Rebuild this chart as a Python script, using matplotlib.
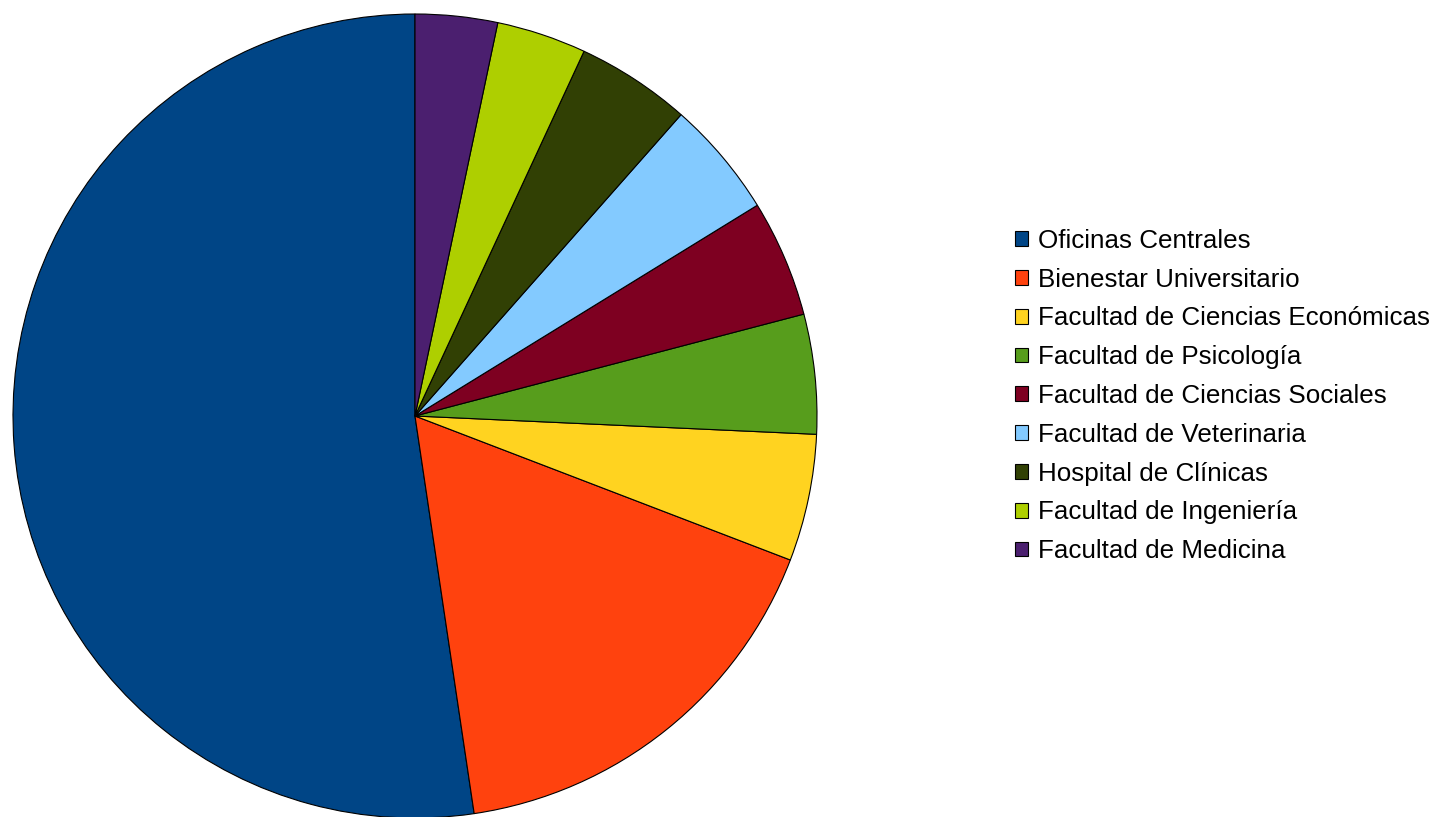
import matplotlib.pyplot as plt

labels = ["Oficinas Centrales", "Bienestar Universitario",
          "Facultad de Ciencias Económicas", "Facultad de Psicología",
          "Facultad de Ciencias Sociales", "Facultad de Veterinaria",
          "Hospital de Clínicas", "Facultad de Ingeniería",
          "Facultad de Medicina"]
values = [52.3, 16.8, 5.1, 4.8, 4.7, 4.7, 4.6, 3.6, 3.3]
colors = ["#004586", "#ff420e", "#ffd320", "#579d1c", "#7e0021",
          "#83caff", "#314004", "#aecf00", "#4b1f6f"]

plt.rcParams['font.family'] = ['Liberation Sans', 'DejaVu Sans']

fig = plt.figure(figsize=(14.37, 8.17), dpi=100)
W, H = 1437, 817
cx, cy, r = 415, 416, 402
ax = fig.add_axes([(cx - r) / W, (H - cy - r) / H, 2 * r / W, 2 * r / H])
wedges, _ = ax.pie(values, colors=colors, startangle=90, counterclock=True,
                   wedgeprops=dict(edgecolor='black', linewidth=0.8))
ax.set_xlim(-1, 1)
ax.set_ylim(-1, 1)
ax.set_aspect('equal')
ax.axis('off')

fig.legend(wedges, labels, loc='center left',
           bbox_to_anchor=(1015 / W, 1 - 396 / H),
           frameon=False, fontsize=18.7, handlelength=0.5, handleheight=0.5,
           handletextpad=0.38, labelspacing=0.57, borderpad=0, borderaxespad=0)

fig.savefig('out.png', dpi=100)
